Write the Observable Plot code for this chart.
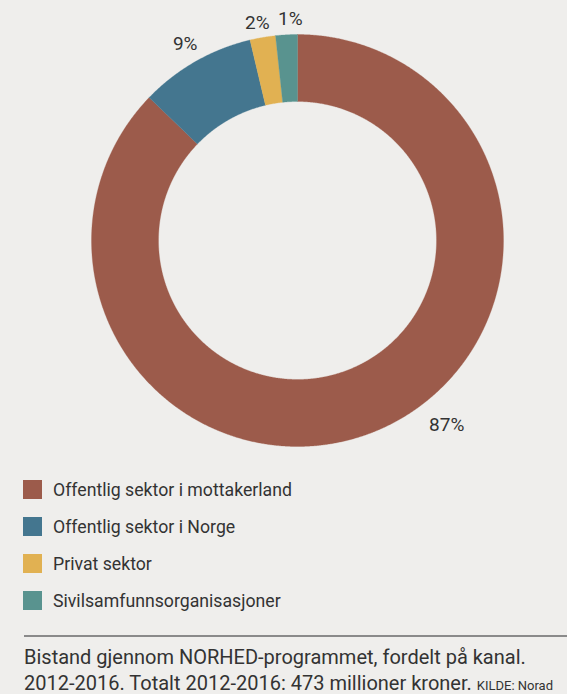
<!DOCTYPE html>
<html>
<head>
<meta charset="utf-8">
<script src="https://cdn.jsdelivr.net/npm/d3@7"></script>
<script src="https://cdn.jsdelivr.net/npm/@observablehq/plot@0.6"></script>
<style>
  html, body { margin: 0; padding: 0; background: #efeeec; }
  body { width: 567px; height: 694px; overflow: hidden; font-family: Roboto, "Liberation Sans", sans-serif; color: #333; }
  #chart svg { display: block; }
  .legend { margin: 0; padding: 0 0 0 23px; }
  .row { height: 37px; display: flex; align-items: center; font-size: 17.7px; color: #333; }
  .sw { width: 19px; height: 19px; margin-right: 11px; flex: none; }
  .rule { margin: 16px 0 0 24px; border-top: 2px solid #8a8a8a; height: 0; }
  .caption { margin: 7px 0 0 24px; font-size: 20px; line-height: 26px; color: #333; white-space: nowrap; }
  .src { font-size: 13px; text-transform: uppercase; }
  .src span { text-transform: none; }
</style>
</head>
<body>
<div id="chart"></div>
<div class="legend" id="legend"></div>
<div class="rule"></div>
<div class="caption">Bistand gjennom NORHED-programmet, fordelt på kanal.<br>2012-2016. Totalt 2012-2016: 473 millioner kroner. <span class="src">Kilde: <span>Norad</span></span></div>
<script>
const categories = ["Offentlig sektor i mottakerland", "Offentlig sektor i Norge", "Privat sektor", "Sivilsamfunnsorganisasjoner"];
const values = [87.2, 9.1, 2.0, 1.7];
const labels = ["87%", "9%", "2%", "1%"];
const colors = ["#9c5b4b", "#44768f", "#e1b152", "#59938f"];

const innerR = 139 / 206;
const arcs = d3.pie().sort(null).value(d => d)(values);

const polys = [];
arcs.forEach((a, i) => {
  const n = Math.max(4, Math.ceil((a.endAngle - a.startAngle) / 0.005));
  const pts = [];
  for (let k = 0; k <= n; k++) {
    const t = a.startAngle + (a.endAngle - a.startAngle) * k / n;
    pts.push({x: Math.sin(t), y: Math.cos(t)});
  }
  for (let k = n; k >= 0; k--) {
    const t = a.startAngle + (a.endAngle - a.startAngle) * k / n;
    pts.push({x: innerR * Math.sin(t), y: innerR * Math.cos(t)});
  }
  pts.push(pts[0]);
  pts.forEach(p => polys.push({...p, cat: categories[i]}));
});

// label placement along each slice (fraction of the slice's angle) and radius
const labelFrac = [0.449, 0.5, 0.4, 0.7];
const labelRad = [1.15, 1.1, 1.075, 1.075];
const labelData = arcs.map((a, i) => {
  const t = a.startAngle + labelFrac[i] * (a.endAngle - a.startAngle);
  const r = labelRad[i];
  return {x: r * Math.sin(t), y: r * Math.cos(t), label: labels[i]};
});

const cx = 297, cy = 240, R = 206;
const chart = Plot.plot({
  width: 567,
  height: 471,
  margin: 0,
  style: {background: "transparent", fontFamily: "Roboto, sans-serif"},
  x: {domain: [-1, 1], range: [cx - R, cx + R], axis: null},
  y: {domain: [-1, 1], range: [cy + R, cy - R], axis: null},
  color: {domain: categories, range: colors},
  marks: [
    Plot.line(polys, {x: "x", y: "y", z: "cat", fill: "cat", stroke: "cat", strokeWidth: 0.3, curve: "linear"}),
    Plot.text(labelData, {x: "x", y: "y", text: "label", fontSize: 19, fill: "#333", textAnchor: "middle"})
  ]
});
document.getElementById("chart").appendChild(chart);

const legend = document.getElementById("legend");
categories.forEach((c, i) => {
  const row = document.createElement("div");
  row.className = "row";
  const sw = document.createElement("div");
  sw.className = "sw";
  sw.style.background = colors[i];
  const lab = document.createElement("span");
  lab.textContent = c;
  row.appendChild(sw);
  row.appendChild(lab);
  legend.appendChild(row);
});
</script>
</body>
</html>
